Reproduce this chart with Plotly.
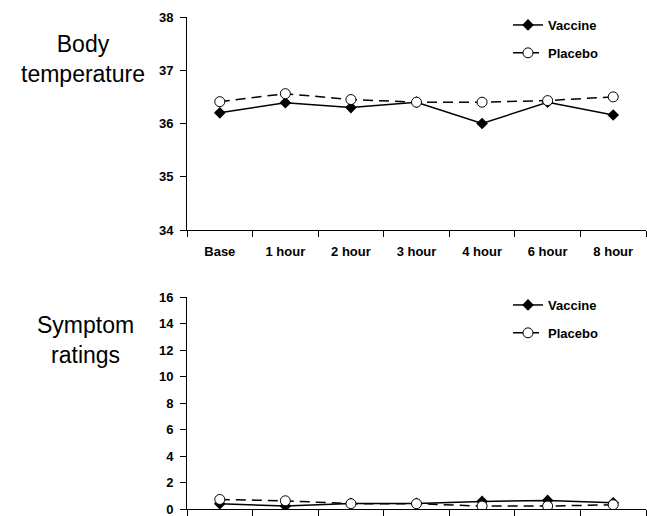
import plotly.graph_objects as go

categories = ["Base", "1 hour", "2 hour", "3 hour", "4 hour", "6 hour", "8 hour"]
temp_vaccine = [36.2, 36.39, 36.3, 36.4, 36.0, 36.4, 36.16]
temp_placebo = [36.41, 36.56, 36.45, 36.4, 36.4, 36.43, 36.5]
sym_vaccine = [0.4, 0.22, 0.42, 0.42, 0.57, 0.65, 0.47]
sym_placebo = [0.72, 0.62, 0.4, 0.4, 0.22, 0.22, 0.32]
temp_ticks = [34, 35, 36, 37, 38]
sym_ticks = [0, 2, 4, 6, 8, 10, 12, 14, 16]

W, H = 647, 516
bold = dict(family="Arial, Liberation Sans, sans-serif", size=13, color="black", weight="bold")

fig = go.Figure()

def add_pair(yv, yp, xa, ya, leg):
    fig.add_trace(go.Scatter(x=categories, y=yv, name="Vaccine", mode="lines+markers",
                             line=dict(color="black", width=1.5),
                             marker=dict(symbol="diamond", size=9, color="black"),
                             xaxis=xa, yaxis=ya, legend=leg, legendgroup=leg + "v"))
    fig.add_trace(go.Scatter(x=categories, y=yp, name="Placebo", mode="lines+markers",
                             line=dict(color="black", width=1.5, dash="10px,6px"),
                             marker=dict(symbol="circle", size=10, color="white",
                                         line=dict(color="black", width=1)),
                             xaxis=xa, yaxis=ya, legend=leg, legendgroup=leg + "p"))

add_pair(temp_vaccine, temp_placebo, "x", "y", "legend")
add_pair(sym_vaccine, sym_placebo, "x2", "y2", "legend2")

xdom = [187 / W, 646 / W]
axis_common = dict(showline=True, linecolor="black", linewidth=1, showgrid=False,
                   zeroline=False, ticks="outside", tickcolor="black", ticklen=6,
                   tickwidth=1, automargin=False, ticklabeloverflow="allow")

fig.update_layout(
    width=W, height=H,
    margin=dict(l=0, r=0, t=0, b=0),
    paper_bgcolor="white", plot_bgcolor="white",
    xaxis=dict(domain=xdom, anchor="y", type="category", range=[-0.5, 6.5],
               tickson="boundaries", tickfont=bold, ticklabelstandoff=9, **axis_common),
    yaxis=dict(domain=[1 - 230 / H, 1 - 17 / H], anchor="x", range=[34, 38],
               tickvals=temp_ticks, tickfont=bold, ticklabelstandoff=4, **axis_common),
    xaxis2=dict(domain=xdom, anchor="y2", type="category", range=[-0.5, 6.5],
                tickson="boundaries", showticklabels=False, **axis_common),
    yaxis2=dict(domain=[1 - 509 / H, 1 - 297 / H], anchor="x2", range=[0, 16],
                tickvals=sym_ticks, tickfont=bold, ticklabelstandoff=4, **axis_common),
    legend=dict(x=508 / W, y=1 - 10 / H, xanchor="left", yanchor="top",
                font=bold, bgcolor="rgba(0,0,0,0)", tracegroupgap=8),
    legend2=dict(x=508 / W, y=1 - 290 / H, xanchor="left", yanchor="top",
                 font=bold, bgcolor="rgba(0,0,0,0)", tracegroupgap=8),
    annotations=[
        dict(text="Body<br>temperature", x=83 / W, y=1 - 59 / H, xref="paper", yref="paper",
             xanchor="center", yanchor="middle", showarrow=False,
             font=dict(family="Arial, Liberation Sans, sans-serif", size=23, color="black")),
        dict(text="Symptom<br>ratings", x=85 / W, y=1 - 340 / H, xref="paper", yref="paper",
             xanchor="center", yanchor="middle", showarrow=False,
             font=dict(family="Arial, Liberation Sans, sans-serif", size=23, color="black")),
    ],
)

fig.write_html("out.html")
